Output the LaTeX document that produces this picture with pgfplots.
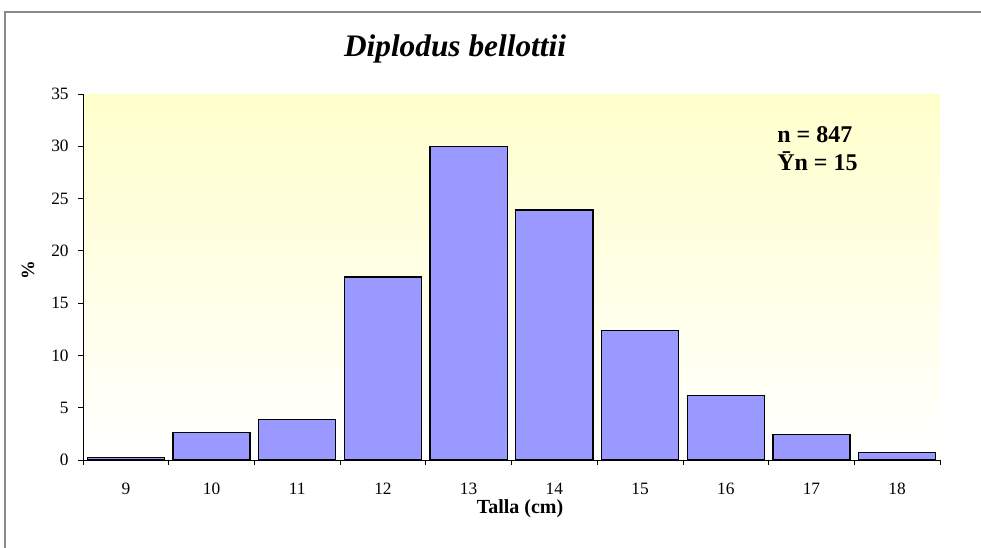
\documentclass[border=0pt]{standalone}
\usepackage{fontspec}
\setmainfont{Liberation Serif}
\usepackage{pgfplots}
\pgfplotsset{compat=1.18}
\definecolor{barblue}{HTML}{9999FF}
\definecolor{bgyellow}{HTML}{FFFFCC}
\definecolor{framegray}{HTML}{888888}
\pgfplotstableread{
x y
9 0.22
10 2.6
11 3.85
12 17.5
13 30.0
14 23.9
15 12.4
16 6.2
17 2.45
18 0.74
}\datatable
\begin{document}
\begin{tikzpicture}[x=0.75pt,y=0.75pt]
\useasboundingbox (0,0) rectangle (981,547);
\begin{axis}[
  at={(62.25pt,65.25pt)}, anchor=south west,
  scale only axis, width=642.75pt, height=274.5pt,
  xmin=8.5, xmax=18.5, ymin=0, ymax=35,
  axis lines=left, axis line style={-, black, line width=0.6pt},
  axis background/.style={shade, top color=bgyellow, bottom color=white},
  xtick={8.5,9.5,...,18.5},
  xticklabels={9,10,11,12,13,14,15,16,17,18,{}},
  xticklabel style={anchor=base, xshift=32.14pt, yshift=-22pt},
  yticklabel style={xshift=-3.5pt},
  ytick={0,5,...,35},
  tick align=outside, major tick length=3.75pt,
  tick style={black, line width=0.6pt},
  ticklabel style={font=\fontsize{13}{15}\selectfont},
  /pgf/number format/assume math mode=true,
  enlargelimits=false, clip=false,
]
\addplot[ybar, bar width=0.9, fill=barblue, draw=black, line width=1pt] table[x=x,y=y] {\datatable};
\end{axis}
\node[anchor=base, font=\fontsize{15}{17}\selectfont\bfseries\itshape] at (455,490) {};
\node[anchor=base, font=\fontsize{23.5}{27}\selectfont\bfseries\itshape] at (455,490) {Diplodus bellottii};
\node[anchor=base, font=\fontsize{15}{17}\selectfont\bfseries] at (520,34) {Talla (cm)};
\node[rotate=90, font=\fontsize{14}{16}\selectfont\bfseries] at (28,277) {\%};
\node[anchor=base west, inner sep=0pt, font=\fontsize{18}{20}\selectfont\bfseries] at (777,404) {n = 847};
\node[anchor=base west, inner sep=0pt, font=\fontsize{18}{20}\selectfont\bfseries] at (777,376) {\=Yn = 15};
\draw[framegray, line width=1.5pt] (5,-20) -- (5,535) -- (1000,535);
\end{tikzpicture}
\end{document}
